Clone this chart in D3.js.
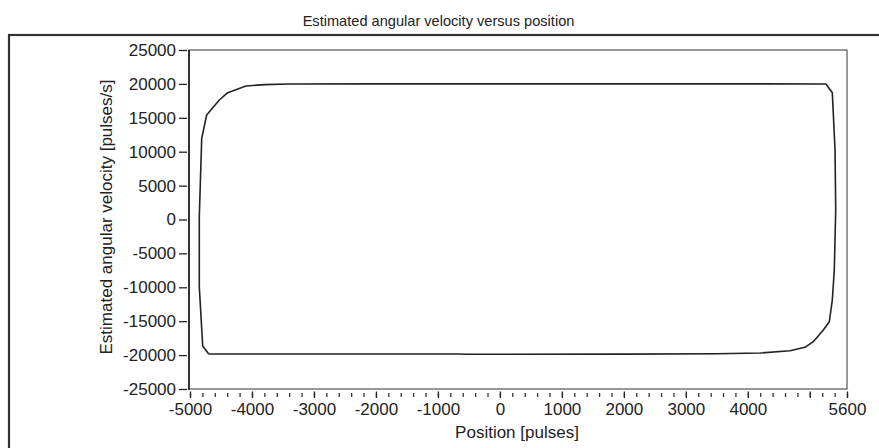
<!DOCTYPE html>
<html>
<head>
<meta charset="utf-8">
<script src="https://cdn.jsdelivr.net/npm/d3@7"></script>
<style>
  body { margin: 0; background: #fff; }
  svg { display: block; font-family: "Liberation Sans", Arial, sans-serif; }
</style>
</head>
<body>
<div class="chart"></div>
<script>
// loop, clockwise from bottom-left corner
const position = [
  -4698, -4795, -4850, -4850, -4811, -4731, -4527, -4392, -4097, -3800, -3400,
  -2000, 0, 2000, 4000, 5261, 5363, 5407, 5418, 5395, 5363, 5315, 5218, 5056,
  4922, 4680, 4200, 3500, 2000, 0, -500, -700, -800, -2000, -4698
]
const velocity = [
  -19838, -18658, -9912, 413, 11976, 15413, 17625, 18700, 19690, 19900, 19985,
  20000, 20000, 20000, 20000, 19985, 18702, 10251, 1401, -7448, -11873, -15074, -16298, -18024,
  -18850, -19351, -19700, -19800, -19850, -19880, -19880, -19830, -19830, -19830, -19838
]
const yTicks = [25000, 20000, 15000, 10000, 5000, 0, -5000, -10000, -15000, -20000, -25000]
const xMajor = [-5000, -4000, -3000, -2000, -1000, 0, 1000, 2000, 3000, 4000, 5000, 5600]
const xLabels = [-5000, -4000, -3000, -2000, -1000, 0, 1000, 2000, 3000, 4000, 5600]

const W = 879, H = 448
const plot = { left: 189, right: 847, top: 50, bottom: 389 }
const fontSize = 17

const svg = d3.select('.chart').append('svg')
  .attr('width', W)
  .attr('height', H)

const x = d3.scaleLinear().domain([-5000, 5600]).range([190, 847])
const y = d3.scaleLinear().domain([-25000, 25000]).range([plot.bottom, plot.top])

// plain hyphen for negatives, like the original
const fmt = d => String(d)

// outer frame
svg.append('rect')
  .attr('x', 9).attr('y', 35)
  .attr('width', W + 20).attr('height', H)
  .attr('fill', 'none')
  .attr('stroke', '#333')
  .attr('stroke-width', 2.2)

svg.append('text')
  .attr('x', 438.5).attr('y', 25.5)
  .attr('text-anchor', 'middle')
  .attr('font-size', 14.6)
  .attr('fill', '#222')
  .text('Estimated angular velocity versus position')

// plot box
svg.append('rect')
  .attr('x', plot.left).attr('y', plot.top)
  .attr('width', plot.right - plot.left).attr('height', plot.bottom - plot.top)
  .attr('fill', 'none')
  .attr('stroke', '#333')
  .attr('stroke-width', 1)
svg.append('line')
  .attr('x1', plot.left).attr('x2', plot.left)
  .attr('y1', plot.top).attr('y2', plot.bottom + 1)
  .attr('stroke', '#333').attr('stroke-width', 2)

// y axis
const yAxis = svg.append('g')
  .attr('transform', `translate(${plot.left - 2},0)`)
  .call(d3.axisLeft(y).tickValues(yTicks).tickSize(8).tickPadding(3).tickFormat(fmt))
yAxis.select('.domain').remove()
yAxis.selectAll('line').attr('stroke', '#222').attr('stroke-width', 1.3)
yAxis.selectAll('text')
  .attr('font-size', fontSize)
  .attr('fill', '#222')
  .attr('font-family', '"Liberation Sans", Arial, sans-serif')

// x axis: minor ticks every 200
const xAxisMinor = svg.append('g')
  .attr('transform', `translate(0,${plot.bottom + 4})`)
  .call(d3.axisBottom(x).tickValues(d3.range(-5000, 5601, 200)).tickSize(4).tickFormat(''))
xAxisMinor.select('.domain').remove()
xAxisMinor.selectAll('line').attr('stroke', '#333').attr('stroke-width', 1.3)

const xAxis = svg.append('g')
  .attr('transform', `translate(0,${plot.bottom + 2.5})`)
  .call(d3.axisBottom(x).tickValues(xMajor).tickSize(6.5).tickPadding(5)
    .tickFormat(d => xLabels.includes(d) ? fmt(d) : ''))
xAxis.select('.domain').remove()
xAxis.selectAll('line').attr('stroke', '#222').attr('stroke-width', 1.3)
xAxis.selectAll('text')
  .attr('font-size', fontSize)
  .attr('fill', '#222')
  .attr('font-family', '"Liberation Sans", Arial, sans-serif')

svg.append('text')
  .attr('x', 517).attr('y', 438)
  .attr('text-anchor', 'middle')
  .attr('font-size', fontSize)
  .attr('fill', '#222')
  .text('Position [pulses]')

svg.append('text')
  .attr('transform', 'translate(112,217) rotate(-90)')
  .attr('text-anchor', 'middle')
  .attr('font-size', fontSize)
  .attr('fill', '#222')
  .text('Estimated angular velocity [pulses/s]')

// the curve
const pts = position.map((p, i) => [p, velocity[i]])
svg.append('path')
  .datum(pts)
  .attr('fill', 'none')
  .attr('stroke', '#222')
  .attr('stroke-width', 1.6)
  .attr('stroke-linejoin', 'round')
  .attr('d', d3.line().x(d => x(d[0])).y(d => y(d[1])))
</script>
</body>
</html>
